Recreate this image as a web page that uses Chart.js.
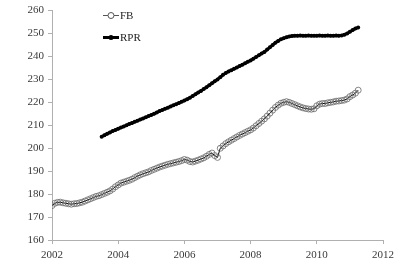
<!DOCTYPE html>
<html>
<head>
<meta charset="utf-8">
<script src="https://cdn.jsdelivr.net/npm/chart.js@4.4.0/dist/chart.umd.min.js"></script>
<style>
html,body{margin:0;padding:0;background:#fff;}
#wrap{width:400px;height:269px;position:relative;}
</style>
</head>
<body>
<div id="wrap"><canvas id="c" width="400" height="269"></canvas></div>
<script>
// Monthly series, first month = Jan 2002
const startYear = 2002;
const seriesNames = ["FB", "RPR"];
const fbValues = [
  175.0, 176.0, 176.4, 176.5, 176.2, 176.0, 175.8, 175.6, 175.8, 175.9, 176.2, 176.5,
  177.0, 177.5, 178.0, 178.5, 179.0, 179.3, 179.8, 180.3, 180.8, 181.4, 182.2, 183.2,
  184.0, 184.8, 185.2, 185.6, 186.0, 186.5, 187.2, 187.8, 188.4, 188.9, 189.3, 189.7,
  190.3, 190.8, 191.3, 191.8, 192.2, 192.6, 193.0, 193.3, 193.6, 193.9, 194.2, 194.6,
  195.1, 194.8, 194.2, 194.0, 194.4, 194.8, 195.3, 195.8, 196.5, 197.3, 197.9, 196.8,
  196.0, 200.0, 201.0, 202.0, 202.8, 203.5, 204.2, 204.9, 205.6, 206.2, 206.8, 207.4,
  208.0, 208.8, 209.8, 210.8, 211.8, 212.8, 214.0, 215.3, 216.6, 217.8, 218.8, 219.6,
  220.0, 220.3, 220.0, 219.5, 219.0, 218.5, 218.0, 217.6, 217.3, 217.1, 217.0, 217.2,
  218.5, 219.2, 219.5, 219.5, 219.8, 220.0, 220.2, 220.5, 220.6, 220.8, 221.0, 221.5,
  222.5, 223.2, 224.0, 225.3
];
// RPR starts Jul 2003 (month index 18)
const rprStartMonth = 18;
const rprValues = [
  205.0, 205.7, 206.3, 206.9, 207.5, 208.0,
  208.5, 209.0, 209.5, 210.0, 210.6, 211.0, 211.5, 212.0, 212.5, 213.0, 213.5, 214.0,
  214.5, 215.0, 215.6, 216.2, 216.7, 217.2, 217.7, 218.2, 218.7, 219.2, 219.7, 220.3,
  220.8, 221.4, 222.0, 222.8, 223.5, 224.3, 225.0, 225.8, 226.6, 227.5, 228.3, 229.2,
  230.0, 231.0, 232.0, 232.8, 233.5, 234.0, 234.6, 235.2, 235.8, 236.4, 237.0, 237.7,
  238.3, 239.0, 239.8, 240.5, 241.3, 242.0, 243.0, 244.0, 245.0, 246.0, 246.8, 247.5,
  248.0, 248.4, 248.7, 248.9, 249.0, 249.0, 249.1, 249.0, 249.0, 249.1, 249.0, 249.0,
  249.0, 249.1, 249.0, 249.0, 249.1, 249.0, 249.0, 249.1, 249.0, 249.2, 249.5, 250.0,
  250.8, 251.5, 252.2, 252.6
];
const xTicks = [2002, 2004, 2006, 2008, 2010, 2012];
const yTicks = [160, 170, 180, 190, 200, 210, 220, 230, 240, 250, 260];

const toPoints = (vals, offset) => vals.map((v, i) => ({x: startYear + (offset + i) / 12, y: v}));

const FONT = '"Liberation Serif", "Times New Roman", serif';
const TEXT = '#3a3a3a';
const AXIS = '#b0b0b0';

const legendPlugin = {
  id: 'customLegend',
  afterDraw(chart) {
    const ctx = chart.ctx;
    ctx.save();
    ctx.font = '11px ' + FONT;
    ctx.fillStyle = '#222';
    ctx.textBaseline = 'middle';
    // FB
    ctx.strokeStyle = '#555';
    ctx.lineWidth = 1;
    ctx.beginPath(); ctx.moveTo(103, 15.5); ctx.lineTo(119, 15.5); ctx.stroke();
    ctx.beginPath(); ctx.arc(111, 15.5, 3, 0, Math.PI * 2); ctx.fillStyle = '#fff'; ctx.fill(); ctx.stroke();
    ctx.fillStyle = '#222';
    ctx.fillText(seriesNames[0], 120, 16);
    // RPR
    ctx.strokeStyle = '#000';
    ctx.lineWidth = 3;
    ctx.beginPath(); ctx.moveTo(103, 37.5); ctx.lineTo(119, 37.5); ctx.stroke();
    ctx.beginPath(); ctx.arc(111, 37.5, 2.5, 0, Math.PI * 2); ctx.fillStyle = '#000'; ctx.fill();
    ctx.fillStyle = '#222';
    ctx.fillText(seriesNames[1], 120, 38);
    ctx.restore();
  }
};

new Chart(document.getElementById('c'), {
  type: 'line',
  data: {
    datasets: [
      {
        label: seriesNames[0],
        data: toPoints(fbValues, 0),
        borderColor: '#000',
        borderWidth: 1,
        pointRadius: 3,
        pointBorderColor: '#6a6a6a',
        pointBorderWidth: 0.8,
        pointBackgroundColor: 'rgba(255,255,255,0)',
        tension: 0,
        order: 2
      },
      {
        label: seriesNames[1],
        data: toPoints(rprValues, rprStartMonth),
        borderColor: '#000',
        borderWidth: 3,
        pointRadius: 2,
        pointBorderWidth: 0,
        pointBackgroundColor: '#000',
        tension: 0,
        order: 1
      }
    ]
  },
  options: {
    responsive: false,
    animation: false,
    layout: {padding: {top: 7, right: 17, bottom: 0, left: 0}},
    plugins: {legend: {display: false}, tooltip: {enabled: false}},
    scales: {
      x: {
        type: 'linear',
        min: xTicks[0],
        max: xTicks[xTicks.length - 1],
        afterBuildTicks: s => { s.ticks = xTicks.map(v => ({value: v})); },
        afterFit: s => { s.height = 29; },
        ticks: {callback: v => String(v), color: TEXT, font: {family: FONT, size: 11}, padding: 5, maxRotation: 0},
        grid: {display: true, drawOnChartArea: false, drawTicks: true, tickLength: 4, color: AXIS},
        border: {color: AXIS}
      },
      y: {
        type: 'linear',
        min: yTicks[0],
        max: yTicks[yTicks.length - 1],
        afterBuildTicks: s => { s.ticks = yTicks.map(v => ({value: v})); },
        afterFit: s => { s.width = 52; },
        ticks: {callback: v => String(v), color: TEXT, font: {family: FONT, size: 11}, padding: 4},
        grid: {display: true, drawOnChartArea: false, drawTicks: true, tickLength: 4, color: AXIS},
        border: {color: AXIS}
      }
    }
  },
  plugins: [legendPlugin]
});
</script>
</body>
</html>
